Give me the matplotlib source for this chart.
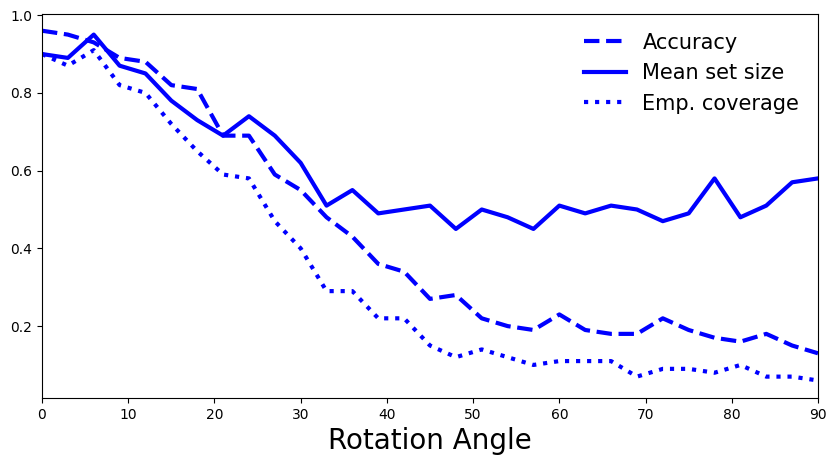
from matplotlib import pyplot as plt

angles = list(range(0, 91, 3))
accuracy = [0.96, 0.95, 0.93, 0.89, 0.88, 0.82, 0.81, 0.69, 0.69, 0.59, 0.55,
            0.48, 0.43, 0.36, 0.34, 0.27, 0.28, 0.22, 0.20, 0.19, 0.23, 0.19,
            0.18, 0.18, 0.22, 0.19, 0.17, 0.16, 0.18, 0.15, 0.13]
mean_set_size = [0.90, 0.89, 0.95, 0.87, 0.85, 0.78, 0.73, 0.69, 0.74, 0.69, 0.62,
                 0.51, 0.55, 0.49, 0.50, 0.51, 0.45, 0.50, 0.48, 0.45, 0.51, 0.49,
                 0.51, 0.50, 0.47, 0.49, 0.58, 0.48, 0.51, 0.57, 0.58]
emp_coverage = [0.90, 0.87, 0.91, 0.82, 0.80, 0.72, 0.65, 0.59, 0.58, 0.47, 0.40,
                0.29, 0.29, 0.22, 0.22, 0.15, 0.12, 0.14, 0.12, 0.10, 0.11, 0.11,
                0.11, 0.07, 0.09, 0.09, 0.08, 0.10, 0.07, 0.07, 0.06]


def main():
    fig = plt.figure(figsize=(8.35, 4.65), dpi=100)
    ax = fig.add_axes([42 / 835, 1 - 398 / 465, 776 / 835, 384 / 465])

    ax.plot(angles, accuracy, color='blue', linestyle='--', linewidth=3, label='Accuracy')
    ax.plot(angles, mean_set_size, color='blue', linestyle='-', linewidth=3, label='Mean set size')
    ax.plot(angles, emp_coverage, color='blue', linestyle=':', linewidth=3, label='Emp. coverage')

    ax.set_xlim(0, 90)
    ax.set_ylim(0.015, 1.003)
    ax.set_yticks([0.2, 0.4, 0.6, 0.8, 1.0])
    ax.set_xlabel('Rotation Angle', fontsize=20)
    ax.legend(frameon=False, fontsize=15, loc='upper right')

    fig.savefig('out.png', dpi=100)


if __name__ == '__main__':
    main()
